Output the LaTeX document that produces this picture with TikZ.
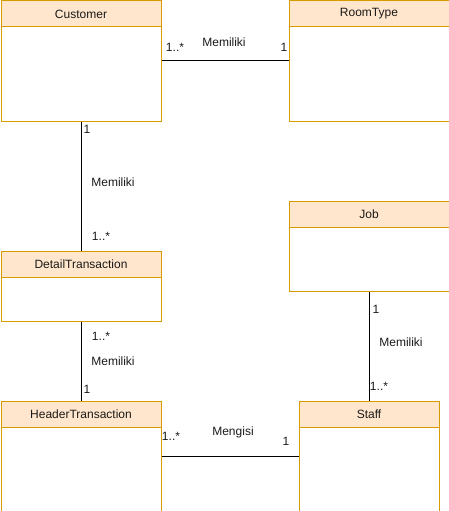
\documentclass[tikz,border=0pt]{standalone}
\usepackage{fontspec}
\setmainfont{Liberation Sans}
\definecolor{hdrfill}{HTML}{FFE6CC}
\definecolor{hdrdraw}{HTML}{D79B00}
\definecolor{txt}{HTML}{1A1A1A}
\begin{document}
\begin{tikzpicture}[x=1pt,y=-1pt,
  classbox/.style={draw=hdrdraw,fill=white,line width=1pt,inner sep=0pt,anchor=north west},
  classhdr/.style={draw=hdrdraw,fill=hdrfill,line width=1pt,inner sep=0pt,anchor=north west,minimum height=26pt,text=txt,font=\fontsize{12}{14}\selectfont},
  lbl/.style={inner sep=0pt,text=txt,font=\fontsize{12}{14}\selectfont},
  conn/.style={draw=black,line width=1pt}]
\useasboundingbox (0,0) rectangle (449,511);
% classes
\node[classbox,minimum width=160pt,minimum height=120pt] (cust) at (0.5,0.5) {};
\node[classhdr,minimum width=160pt] (custh) at (0.5,0.5) {Customer};
\node[classbox,minimum width=160pt,minimum height=120pt] (room) at (288.5,0.5) {};
\node[classhdr,minimum width=160pt] (roomh) at (288.5,0.5) {RoomType};
\node[classbox,minimum width=160pt,minimum height=70pt] (detail) at (0.5,250.5) {};
\node[classhdr,minimum width=160pt] (detailh) at (0.5,250.5) {DetailTransaction};
\node[classbox,minimum width=160pt,minimum height=110pt] (header) at (0.5,400.5) {};
\node[classhdr,minimum width=160pt] (headerh) at (0.5,400.5) {HeaderTransaction};
\node[classbox,minimum width=160pt,minimum height=90pt] (job) at (288.5,200.5) {};
\node[classhdr,minimum width=160pt] (jobh) at (288.5,200.5) {Job};
\node[classbox,minimum width=140pt,minimum height=110pt] (staff) at (298.5,400.5) {};
\node[classhdr,minimum width=140pt] (staffh) at (298.5,400.5) {Staff};
% connectors
\draw[conn] (cust.east) -- (room.west);
\draw[conn] (cust.south) -- (detail.north);
\draw[conn] (detail.south) -- (header.north);
\draw[conn] (job.south) -- (staff.north);
\draw[conn] (header.east) -- (staff.west);
% labels
\node[lbl] (l1) at (175,47) {1..*};
\node[lbl] (l2) at (224,42) {Memiliki};
\node[lbl] (l3) at (284,47) {1};
\node[lbl] (l4) at (87,129) {1};
\node[lbl] (l5) at (113,182) {Memiliki};
\node[lbl] (l6) at (101,236) {1..*};
\node[lbl] (l7) at (101,336) {1..*};
\node[lbl] (l8) at (113,361) {Memiliki};
\node[lbl] (l9) at (87,389) {1};
\node[lbl] (l10) at (376,309) {1};
\node[lbl] (l11) at (401,342) {Memiliki};
\node[lbl] (l12) at (379,386) {1..*};
\node[lbl] (l13) at (233,432) {Mengisi};
\node[lbl] (l14) at (171,436) {1..*};
\node[lbl] (l15) at (286,441) {1};
\end{tikzpicture}
\end{document}
